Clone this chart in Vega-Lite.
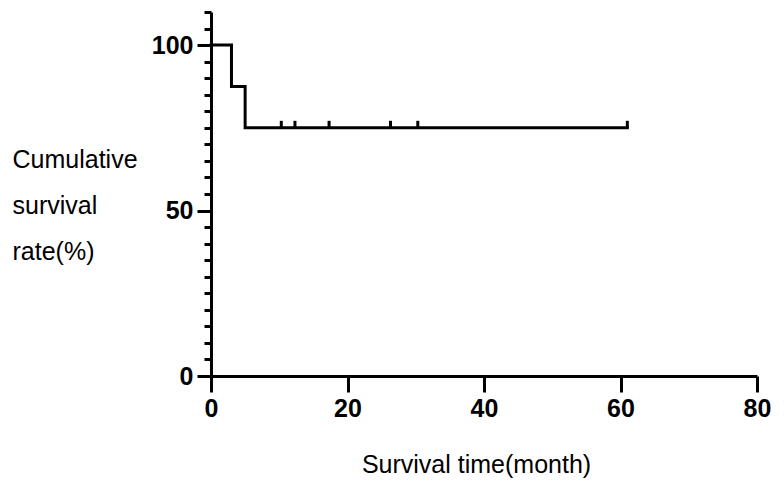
{
  "$schema": "https://vega.github.io/schema/vega-lite/v6.json",
  "width": 546,
  "height": 364,
  "autosize": {"type": "none"},
  "padding": {"left": 211, "top": 12, "right": 27, "bottom": 116},
  "background": "white",
  "config": {"view": {"stroke": null}, "font": "Liberation Sans"},
  "datasets": {
    "curve": [
      {"time": 0, "surv": 100},
      {"time": 3, "surv": 87.5},
      {"time": 5, "surv": 75},
      {"time": 61, "surv": 75}
    ],
    "censor": [
      {"time": 10.3, "surv": 75},
      {"time": 12.3, "surv": 75},
      {"time": 17.3, "surv": 75},
      {"time": 26.3, "surv": 75},
      {"time": 30.3, "surv": 75},
      {"time": 61, "surv": 75}
    ]
  },
  "encoding": {
    "x": {
      "field": "time", "type": "quantitative",
      "scale": {"domain": [0, 80], "nice": false, "zero": true},
      "axis": {
        "values": [0, 20, 40, 60, 80],
        "grid": false,
        "domainColor": "black", "domainWidth": 3,
        "tickColor": "black", "tickWidth": 3, "tickSize": 16,
        "labelFont": "Liberation Sans", "labelFontSize": 25, "labelFontWeight": "bold", "labelColor": "black",
        "labelPadding": 4, "labelFlush": false,
        "title": "Survival time(month)",
        "titleFont": "Liberation Sans", "titleFontSize": 25, "titleFontWeight": "normal", "titleColor": "black",
        "titleX": 265, "titleY": 96, "titleBaseline": "alphabetic", "titleAlign": "center"
      }
    },
    "y": {
      "field": "surv", "type": "quantitative",
      "scale": {"domain": [0, 110], "nice": false},
      "axis": {
        "values": [0, 5, 10, 15, 20, 25, 30, 35, 40, 45, 50, 55, 60, 65, 70, 75, 80, 85, 90, 95, 100, 105, 110],
        "labelExpr": "datum.value % 50 === 0 ? datum.label : ''",
        "grid": false,
        "domainColor": "black", "domainWidth": 3,
        "tickColor": "black", "tickWidth": 3,
        "tickSize": {"expr": "datum.value % 50 === 0 ? 14 : 7"},
        "labelFont": "Liberation Sans", "labelFontSize": 25, "labelFontWeight": "bold", "labelColor": "black",
        "labelPadding": 4, "labelFlush": false, "labelOverlap": false,
        "title": ["Cumulative", "survival", "rate(%)"],
        "titleFont": "Liberation Sans", "titleFontSize": 25, "titleFontWeight": "normal", "titleColor": "black",
        "titleAngle": 0, "titleAlign": "left", "titleBaseline": "alphabetic",
        "titleX": -199, "titleY": 155, "titleLineHeight": 46
      }
    }
  },
  "layer": [
    {
      "data": {"name": "curve"},
      "mark": {"type": "line", "interpolate": "step-after", "color": "black", "strokeWidth": 3, "strokeCap": "square", "clip": false}
    },
    {
      "data": {"name": "censor"},
      "mark": {"type": "point", "shape": "M0,0L0,-1", "filled": false, "color": "black", "strokeWidth": 3, "size": 196, "opacity": 1}
    }
  ]
}
